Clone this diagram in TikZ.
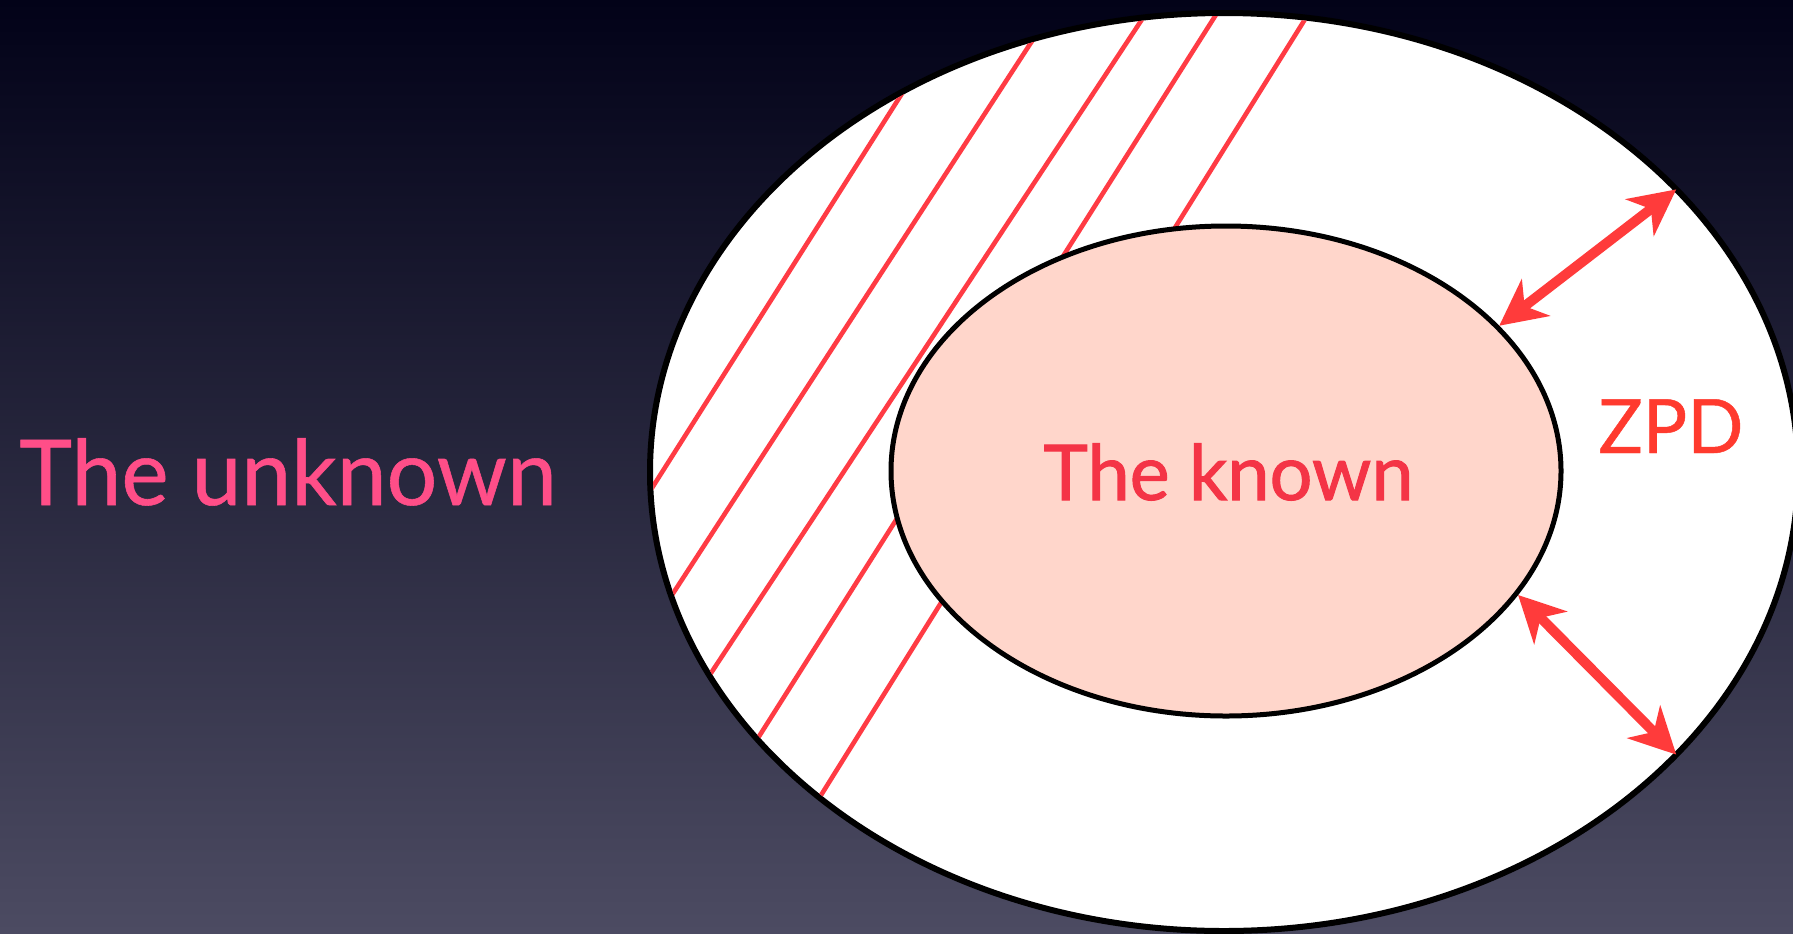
\documentclass[tikz,border=0pt]{standalone}
\usepackage{fontspec}
\setmainfont{Lato}
\newfontfamily\plainfont[FakeBold=0.6,FakeStretch=0.985]{Lato}
\newfontfamily\heavyfont[FakeBold=1.3,FakeStretch=0.985]{Lato}
\usetikzlibrary{arrows.meta,shapes.geometric,calc}
\definecolor{bgtop}{RGB}{2,2,24}
\definecolor{bgbot}{RGB}{76,75,98}
\definecolor{peach}{RGB}{255,214,203}
\definecolor{unkpink}{RGB}{255,78,136}
\definecolor{knownred}{RGB}{244,52,70}
\definecolor{zpdred}{RGB}{255,58,46}
\definecolor{arrowred}{RGB}{255,59,59}
\definecolor{hatchred}{RGB}{255,59,68}
\begin{document}
\begin{tikzpicture}[x=0.5pt,y=-0.5pt,
  ringshape/.style={ellipse, draw=black, inner sep=0pt},
  hatchline/.style={draw=hatchred, line width=2.3pt},
  zpdarrow/.style={draw=arrowred, line width=5pt,
    {Stealth[length=23pt,width=23pt,inset=7pt]}-{Stealth[length=23pt,width=23pt,inset=7pt]}},
  label/.style={anchor=base west, inner sep=0pt}]
\useasboundingbox (0,0) rectangle (1793,933);
\shade[top color=bgtop,bottom color=bgbot] (0,0) rectangle (1793,933);

\node[ringshape, fill=white, line width=3pt, outer sep=0pt,
      minimum width=574pt, minimum height=459pt] (outer) at (1224,472) {};

\coordinate (h1a) at (651.8,488.3); \coordinate (h1b) at (901.1,94.9);
\coordinate (h2a) at (672,595);     \coordinate (h2b) at (1034.9,36.6);
\coordinate (h3a) at (713,670);     \coordinate (h3b) at (1141.2,20.6);
\coordinate (h4a) at (758,738);     \coordinate (h4b) at (1214.4,17.2);
\coordinate (h5a) at (818,800);     \coordinate (h5b) at (1301.3,25.2);
\begin{scope}
  \clip (1224,472) ellipse [x radius=571, y radius=456];
  \foreach \i in {1,...,5}{
    \draw[hatchline] ($(h\i a)!-0.15!(h\i b)$) -- ($(h\i a)!1.15!(h\i b)$);
  }
\end{scope}

\node[ringshape, fill=peach, line width=2.5pt,
      minimum width=335pt, minimum height=245pt] (inner) at (1226,471) {};

\node[label, text=unkpink, font=\plainfont\fontsize{45.4}{50}\selectfont] (unknown) at (19,505) {The unknown};
\node[label, text=knownred, font=\heavyfont\fontsize{38.4}{42}\selectfont] (known) at (1043,500) {The known};
\node[label, text=zpdred, font=\plainfont\fontsize{37.5}{40}\selectfont] (zpd) at (1598,453) {ZPD};

\draw[zpdarrow] (inner.28.4) -- (outer.32.4);
\draw[zpdarrow] (inner.-23.5) -- (outer.-32.4);
\end{tikzpicture}
\end{document}
